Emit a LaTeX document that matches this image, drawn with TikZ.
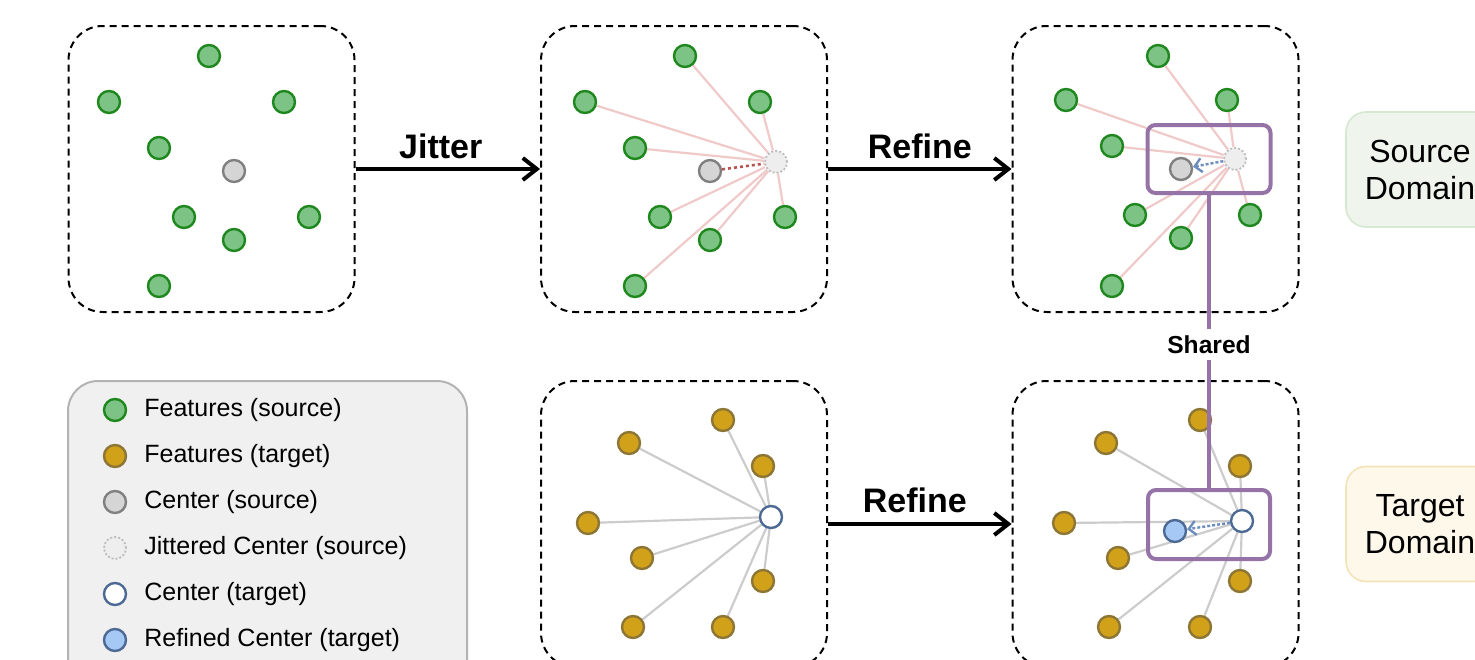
\documentclass[tikz,border=0pt]{standalone}
\usepackage{fontspec}
\setmainfont{Liberation Sans}
\usetikzlibrary{arrows.meta}
\pgfdeclarelayer{bg}
\pgfsetlayers{bg,main}
\definecolor{fgreen}{HTML}{1E881E}
\definecolor{fgreenfill}{HTML}{7DC385}
\definecolor{tgold}{HTML}{D2A11A}
\definecolor{tgoldline}{HTML}{8C7535}
\definecolor{cgrayfill}{HTML}{D5D5D5}
\definecolor{cgrayline}{HTML}{808080}
\definecolor{jitfill}{HTML}{EEEEEE}
\definecolor{jitline}{HTML}{BDBDBD}
\definecolor{tblue}{HTML}{4D6A94}
\definecolor{rblue}{HTML}{A6C8F5}
\definecolor{pinkedge}{HTML}{F0C9C9}
\definecolor{grayedge}{HTML}{CCCCCC}
\definecolor{purp}{HTML}{9673A6}
\definecolor{legfill}{HTML}{F0F0F0}
\definecolor{legline}{HTML}{B3B3B3}
\definecolor{srcfill}{HTML}{EFF5EC}
\definecolor{srcline}{HTML}{D6E7D2}
\definecolor{tgtfill}{HTML}{FDF8EA}
\definecolor{tgtline}{HTML}{F2E3B8}
\definecolor{jred}{HTML}{B85450}
\definecolor{ablue}{HTML}{6C8EBF}
\begin{document}
\begin{tikzpicture}[x=0.5pt,y=-0.5pt,
  dot/.style={circle,inner sep=0pt,minimum size=11pt,line width=1.2pt},
  featsrc/.style={dot,draw=fgreen,fill=fgreenfill},
  feattgt/.style={dot,draw=tgoldline,fill=tgold},
  censrc/.style={dot,draw=cgrayline,fill=cgrayfill},
  jitcen/.style={dot,draw=jitline,fill=jitfill,dash pattern=on 1pt off 1pt,line width=0.9pt},
  centgt/.style={dot,draw=tblue,fill=white},
  refcen/.style={dot,draw=tblue,fill=rblue},
  panelbox/.style={draw=black,line width=1pt,dash pattern=on 3.5pt off 2.5pt,rounded corners=17pt,minimum width=143pt,minimum height=143pt,inner sep=0pt},
  mainarrow/.style={line width=2pt,-{Straight Barb[length=7pt,width=11pt]}},
  steplabel/.style={font=\fontsize{17pt}{20pt}\selectfont\bfseries},
  pinkline/.style={draw=pinkedge,line width=1.1pt},
  grayline/.style={draw=grayedge,line width=1.1pt},
  sharebox/.style={draw=purp,line width=2pt,rounded corners=4pt,inner sep=0pt},
  legtext/.style={anchor=west,font=\fontsize{12.5pt}{15pt}\selectfont,inner sep=0pt},
  domainbox/.style={line width=0.8pt,rounded corners=10pt,minimum width=74pt,minimum height=57.5pt,align=center,font=\fontsize{16pt}{18.5pt}\selectfont},
  moveline/.style={line width=1.2pt,dash pattern=on 1.5pt off 1pt}
]
\useasboundingbox (0,0) rectangle (1475,659);
\clip (0,0) rectangle (1475,659);

% panels
\node[panelbox] (P1) at (211.5,169) {};
\node[panelbox] (P2) at (684,169) {};
\node[panelbox] (P3) at (1155.5,169) {};
\node[panelbox] (P4) at (684,524) {};
\node[panelbox] (P5) at (1155.5,524) {};

% domain boxes
\node[domainbox,draw=srcline,fill=srcfill] (SD) at (1420,169.5) {Source\\Domain};
\node[domainbox,draw=tgtline,fill=tgtfill] (TD) at (1420,524) {Target\\Domain};

% legend
\node[draw=legline,fill=legfill,line width=1pt,rounded corners=15pt,minimum width=199.5pt,minimum height=155pt,inner sep=0pt] (legend) at (267.5,536) {};
\foreach \st/\txt [count=\i] in {featsrc/Features (source),feattgt/Features (target),censrc/Center (source),jitcen/Jittered Center (source),centgt/Center (target),refcen/Refined Center (target)}{
  \node[\st] (leg\i) at (115,{364+46*\i}) {};
  \node[legtext] (legt\i) at (144,{364+46*\i}) {\txt};
}

% panel 1
\foreach \x/\y [count=\i] in {209/56,109/102,284/102,159/148,184/217,309/217,234/240,159/286}
  \node[featsrc] (a\i) at (\x,\y) {};
\node[censrc] (ac) at (234,171) {};

% panel 2
\foreach \x/\y [count=\i] in {685/56,585/102,760/102,635/148,660/217,785/217,710/240,635/286}
  \node[featsrc] (b\i) at (\x,\y) {};
\node[censrc] (bc) at (710,171) {};
\node[jitcen] (bj) at (776,162) {};

% panel 3
\foreach \x/\y [count=\i] in {1158/56,1066/100,1227/100,1112/146,1135/215,1250/215,1181/238,1112/286}
  \node[featsrc] (c\i) at (\x,\y) {};
\node[censrc] (cc) at (1181,169) {};
\node[jitcen] (cj) at (1235,159) {};

% panel 4
\foreach \x/\y [count=\i] in {723/420,629/443,763/466,588/523,642/558,763/581,633/627,723/627}
  \node[feattgt] (d\i) at (\x,\y) {};
\node[centgt] (dc) at (771,517) {};

% panel 5
\foreach \x/\y [count=\i] in {1200/420,1106/443,1240/466,1064/523,1118/558,1240/581,1109/627,1200/627}
  \node[feattgt] (e\i) at (\x,\y) {};
\node[centgt] (ec) at (1242,521) {};
\node[refcen] (er) at (1175,531) {};

% edges behind
\begin{pgfonlayer}{bg}
  \foreach \i in {1,...,8}{
    \draw[pinkline] (bj) -- (b\i);
    \draw[pinkline] (cj) -- (c\i);
    \draw[grayline] (dc) -- (d\i);
    \draw[grayline] (ec) -- (e\i);
  }
\end{pgfonlayer}

% moves
\draw[jred,line width=1.3pt,dash pattern=on 1.5pt off 1.5pt] (bc) -- (bj);
\draw[ablue,moveline,-{Straight Barb[length=3.5pt,width=7pt]}] (cj) -- (cc);
\draw[ablue,moveline,-{Straight Barb[length=3.5pt,width=7pt]}] (ec) -- (er);

% main arrows
\draw[mainarrow] (P1.east) -- (P2.west) node[steplabel,midway,yshift=11.5pt,xshift=-3.5pt] {Jitter};
\draw[mainarrow] (P2.east) -- (P3.west) node[steplabel,midway,yshift=11.5pt] {Refine};
\draw[mainarrow] (P4.east) -- (P5.west) node[steplabel,midway,yshift=12pt,xshift=-2.5pt] {Refine};

% shared refinement
\node[sharebox,minimum width=61.5pt,minimum height=34pt] (S1) at (1209,159) {};
\node[sharebox,minimum width=61pt,minimum height=34.5pt] (S2) at (1209,524.5) {};
\draw[purp,line width=2pt] (S1.south) -- (S2.north)
  node[midway,fill=white,text=black,inner sep=3pt,font=\fontsize{12.3pt}{14pt}\selectfont\bfseries,yshift=-1.5pt] (sh) {Shared};
\end{tikzpicture}
\end{document}
